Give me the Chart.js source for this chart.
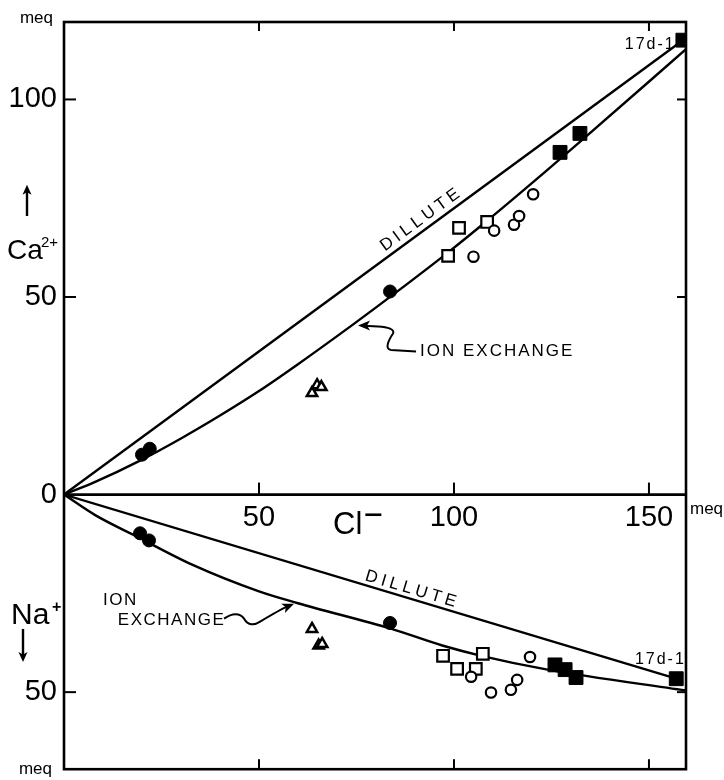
<!DOCTYPE html>
<html>
<head>
<meta charset="utf-8">
<script src="https://cdn.jsdelivr.net/npm/chart.js@4.4.0/dist/chart.umd.min.js"></script>
<style>
  html, body { margin: 0; padding: 0; background: #fff; }
</style>
</head>
<body>
<canvas id="chart" width="724" height="780"></canvas>
<script>
// Cl- (meq) against Ca2+ (drawn upward) and Na+ (drawn downward)
const clTicks = [50, 100, 150];
const ionTicks = [-50, 0, 50, 100];   // labels are shown as absolute values

// Ca2+ side
const caDiluteCl = [0, 158.7];
const caDilute = [0, 115];
const caExchangeCl = [0, 8, 19.5, 30, 40, 50, 60, 74.6, 86, 98.5, 108.5, 123.3, 132, 159.5];
const caExchange = [0, 3.2, 8.6, 14.2, 20, 26.2, 33, 43.4, 51.8, 61.3, 69.3, 81.6, 89, 112.7];

const caFilledCircleCl = [20, 22, 83.6];
const caFilledCircle = [10.1, 11.6, 51.4];
const caOpenCircleCl = [105, 110.3, 115.4, 116.7, 120.3];
const caOpenCircle = [60.2, 66.8, 68.3, 70.5, 76];
const caOpenSquareCl = [98.5, 101.3, 108.5];
const caOpenSquare = [60.4, 67.5, 69];
const caFilledSquareCl = [127.2, 132.3, 158.7];
const caFilledSquare = [86.6, 91.4, 115];
const caTriangleCl = [63.6, 64.9, 66];
const caTriangle = [25.7, 27.7, 27.2];

// Na+ side (values are positive, plotted below zero)
const naDiluteCl = [0, 157];
const naDilute = [0, 46.6];
const naExchangeCl = [0, 8, 19, 33, 50, 60, 84, 97, 107, 124, 159.5];
const naExchange = [0, 5.2, 10.8, 17.8, 24.5, 27.5, 34, 38.2, 40.8, 44.3, 49.6];

const naFilledCircleCl = [19.5, 21.8, 83.6];
const naFilledCircle = [9.8, 11.6, 32.5];
const naOpenCircleCl = [104.4, 109.5, 114.6, 116.2, 119.5];
const naOpenCircle = [46.1, 50.1, 49.4, 46.9, 41.1];
const naOpenSquareCl = [97.2, 100.8, 105.6, 107.4];
const naOpenSquare = [40.8, 44.1, 44.1, 40.3];
const naFilledSquareCl = [125.9, 128.5, 131.3, 157];
const naFilledSquare = [43.1, 44.3, 46.3, 46.6];
const naTriangleCl = [63.6, 65.3, 66.2];
const naTriangle = [34, 38.2, 37.8];

const FONT = '"Liberation Sans", Arial, sans-serif';

function pts(xs, ys, sign) {
  return xs.map((x, i) => ({ x: x, y: sign * ys[i] }));
}

function marks(label, data, style, radius, filled, width) {
  return {
    label: label,
    data: data,
    showLine: false,
    pointStyle: style,
    pointRadius: radius,
    pointHoverRadius: radius,
    pointBackgroundColor: filled ? '#000' : '#fff',
    pointBorderColor: '#000',
    pointBorderWidth: width
  };
}

function curve(label, data, smooth) {
  return {
    label: label,
    data: data,
    showLine: true,
    pointRadius: 0,
    pointHoverRadius: 0,
    borderColor: '#000',
    borderWidth: 2.4,
    fill: false,
    tension: 0,
    cubicInterpolationMode: smooth ? 'monotone' : 'default'
  };
}

function line(ctx, x1, y1, x2, y2) {
  ctx.beginPath();
  ctx.moveTo(x1, y1);
  ctx.lineTo(x2, y2);
  ctx.stroke();
}

function arrowHead(ctx, x, y, ang, len, half) {
  ctx.save();
  ctx.translate(x, y);
  ctx.rotate(ang);
  ctx.beginPath();
  ctx.moveTo(0, 0);
  ctx.lineTo(-len, -half);
  ctx.lineTo(-len * 0.75, 0);
  ctx.lineTo(-len, half);
  ctx.closePath();
  ctx.fill();
  ctx.restore();
}

// keep the plot box fixed: no extra room for edge labels
function noPadding(s) {
  s.paddingTop = 0;
  s.paddingBottom = 0;
  s.paddingLeft = 0;
  s.paddingRight = 0;
}

// frame, inner tick marks and all the hand lettering
const paper = {
  id: 'paper',
  afterDraw(chart) {
    const { ctx, chartArea: a, scales: { x, y } } = chart;
    const X = v => x.getPixelForValue(v);
    const Y = v => y.getPixelForValue(v);
    const y0 = Y(0);
    ctx.save();
    ctx.strokeStyle = '#000';
    ctx.fillStyle = '#000';
    ctx.lineCap = 'butt';

    ctx.lineWidth = 2.6;
    ctx.strokeRect(a.left, a.top, a.right - a.left, a.bottom - a.top);
    line(ctx, a.left, y0, a.right, y0);

    ctx.lineWidth = 2;
    ionTicks.filter(v => v !== 0).forEach(v => {
      line(ctx, a.left, Y(v), a.left + 12, Y(v));
      line(ctx, a.right, Y(v), a.right - 9, Y(v));
    });
    clTicks.forEach(v => {
      line(ctx, X(v), a.top, X(v), a.top + 9);
      line(ctx, X(v), a.bottom, X(v), a.bottom - 10);
      line(ctx, X(v), y0, X(v), y0 - 12);
    });

    // units
    ctx.font = '17px ' + FONT;
    ctx.textBaseline = 'alphabetic';
    ctx.textAlign = 'right';
    ctx.fillText('meq', a.left - 11, a.top + 1);
    ctx.fillText('meq', a.left - 12, a.bottom + 5);
    ctx.textAlign = 'left';
    ctx.fillText('meq', a.right + 4, y0 + 19);

    // Ca2+ with up arrow
    ctx.lineWidth = 2.4;
    line(ctx, a.left - 37, Y(70.5), a.left - 37, Y(77));
    arrowHead(ctx, a.left - 37, Y(78.4), -Math.PI / 2, 10, 4.5);
    ctx.font = '28px ' + FONT;
    ctx.fillText('Ca', a.left - 57, Y(59.7));
    ctx.font = '15px ' + FONT;
    ctx.fillText('2+', a.left - 23, Y(62.6));

    // Na+ with down arrow
    ctx.font = '30px ' + FONT;
    ctx.fillText('Na', a.left - 53, Y(-32.7));
    ctx.font = 'bold 16px ' + FONT;
    ctx.fillText('+', a.left - 12, Y(-29.6));
    line(ctx, a.left - 41, Y(-34), a.left - 41, Y(-41));
    arrowHead(ctx, a.left - 41, Y(-42.4), Math.PI / 2, 10, 4.5);

    // Cl-
    ctx.font = '31px ' + FONT;
    ctx.fillText('Cl', X(69), Y(-10.1));
    const clW = ctx.measureText('Cl').width;
    ctx.fillRect(X(69) + clW + 3, Y(-5.1) - 1.3, 16, 2.6);

    // DILLUTE labels along the straight lines
    ctx.font = '17px ' + FONT;
    ctx.letterSpacing = '4px';
    ctx.textAlign = 'center';
    ctx.textBaseline = 'middle';
    const caAng = Math.atan2(Y(caDilute[1]) - Y(0), X(caDiluteCl[1]) - X(0));
    ctx.save();
    ctx.translate(X(91.3), Y(69.5));
    ctx.rotate(caAng);
    ctx.fillText('DILLUTE', 2, 0);
    ctx.restore();
    const naAng = Math.atan2(Y(-naDilute[1]) - Y(0), X(naDiluteCl[1]) - X(0));
    ctx.save();
    ctx.translate(X(88.9), Y(-23.9));
    ctx.rotate(naAng);
    ctx.fillText('DILLUTE', 2, 0);
    ctx.restore();

    // ION EXCHANGE labels
    ctx.textAlign = 'left';
    ctx.textBaseline = 'alphabetic';
    ctx.letterSpacing = '2px';
    ctx.fillText('ION EXCHANGE', X(91.3), Y(35));
    ctx.letterSpacing = '1.5px';
    ctx.fillText('ION', X(10), Y(-28));
    ctx.fillText('EXCHANGE', X(13.8), Y(-33));

    // curly pointers to the ion exchange curves
    ctx.lineWidth = 2;
    let tx = X(75.4), ty = Y(42.8);
    ctx.beginPath();
    ctx.moveTo(tx + 58, ty + 26);
    ctx.lineTo(tx + 33, ty + 24.5);
    ctx.bezierCurveTo(tx + 26, ty + 23.5, tx + 31, ty + 14, tx + 35, ty + 8);
    ctx.bezierCurveTo(tx + 37, ty + 4, tx + 30, ty + 1.5, tx + 20, ty + 1);
    ctx.lineTo(tx + 6, ty + 0.3);
    ctx.stroke();
    arrowHead(ctx, tx, ty, Math.PI, 12, 5);

    tx = X(59); ty = Y(-27.6);
    ctx.beginPath();
    ctx.moveTo(tx - 70, ty + 15);
    ctx.bezierCurveTo(tx - 62, ty + 9, tx - 54, ty + 9, tx - 50, ty + 15);
    ctx.bezierCurveTo(tx - 46, ty + 22, tx - 40, ty + 22, tx - 34, ty + 18);
    ctx.bezierCurveTo(tx - 24, ty + 12, tx - 14, ty + 6, tx - 6, ty + 2.5);
    ctx.stroke();
    arrowHead(ctx, tx, ty, Math.atan2(-0.42, 1), 12, 5);

    // sample tags
    ctx.font = '16px ' + FONT;
    ctx.letterSpacing = '2px';
    ctx.fillText('17d-1', X(143.8), Y(112.8));
    ctx.fillText('17d-1', X(146.4), Y(-42.8));
    ctx.restore();
  }
};

new Chart(document.getElementById('chart'), {
  type: 'scatter',
  data: {
    datasets: [
      marks('Ca filled circles', pts(caFilledCircleCl, caFilledCircle, 1), 'circle', 6.5, true, 1),
      marks('Ca open circles', pts(caOpenCircleCl, caOpenCircle, 1), 'circle', 5.2, false, 2.2),
      marks('Ca open squares', pts(caOpenSquareCl, caOpenSquare, 1), 'rect', 8.2, false, 2.2),
      marks('Ca filled squares', pts(caFilledSquareCl, caFilledSquare, 1), 'rect', 9.8, true, 1),
      marks('Ca triangles', pts(caTriangleCl, caTriangle, 1), 'triangle', 6, false, 2.5),
      marks('Na filled circles', pts(naFilledCircleCl, naFilledCircle, -1), 'circle', 6.5, true, 1),
      marks('Na open circles', pts(naOpenCircleCl, naOpenCircle, -1), 'circle', 5.2, false, 2.2),
      marks('Na open squares', pts(naOpenSquareCl, naOpenSquare, -1), 'rect', 8.2, false, 2.2),
      marks('Na filled squares', pts(naFilledSquareCl, naFilledSquare, -1), 'rect', 9.8, true, 1),
      marks('Na triangles', pts(naTriangleCl, naTriangle, -1), 'triangle', 6, false, 2.5),
      curve('Ca dilute', pts(caDiluteCl, caDilute, 1), false),
      curve('Ca ion exchange', pts(caExchangeCl, caExchange, 1), true),
      curve('Na dilute', pts(naDiluteCl, naDilute, -1), false),
      curve('Na ion exchange', pts(naExchangeCl, naExchange, -1), true)
    ]
  },
  options: {
    responsive: false,
    animation: false,
    devicePixelRatio: 1,
    layout: { padding: { top: 22, right: 38, bottom: 7, left: 0 } },
    plugins: { legend: { display: false }, tooltip: { enabled: false } },
    scales: {
      x: {
        type: 'linear',
        min: 0,
        max: 159.5,
        position: { y: 0 },
        afterBuildTicks: s => { s.ticks = clTicks.map(v => ({ value: v })); },
        afterFit: s => { s.height = 0; noPadding(s); },
        grid: { display: false, drawTicks: false },
        border: { display: false },
        ticks: {
          color: '#000',
          font: { family: FONT, size: 29 },
          padding: 6,
          maxRotation: 0,
          autoSkip: false
        }
      },
      y: {
        type: 'linear',
        min: -69.5,
        max: 119.6,
        position: 'left',
        afterBuildTicks: s => { s.ticks = ionTicks.map(v => ({ value: v })); },
        afterFit: s => { s.width = 64; noPadding(s); },
        grid: { display: false, drawTicks: false },
        border: { display: false },
        ticks: {
          color: '#000',
          font: { family: FONT, size: 29 },
          padding: 7,
          autoSkip: false,
          callback: v => String(Math.abs(v))
        }
      }
    }
  },
  plugins: [paper]
});
</script>
</body>
</html>
